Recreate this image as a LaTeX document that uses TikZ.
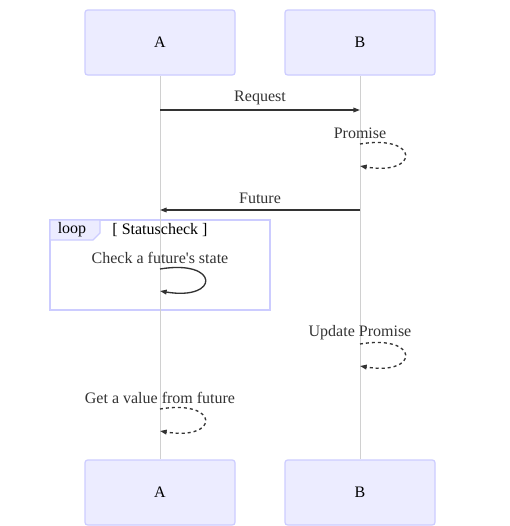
\documentclass[tikz,border=0pt]{standalone}
\usepackage{fontspec}
\setmainfont{Liberation Serif}
\usetikzlibrary{arrows.meta}
\usetikzlibrary{positioning}

\definecolor{actorfill}{HTML}{ECECFF}
\definecolor{actorline}{HTML}{CCCCFF}
\definecolor{lifegray}{HTML}{D0D0D0}
\definecolor{msggray}{HTML}{333333}

\tikzset{
  actor/.style={draw=actorline, fill=actorfill, line width=0.9pt, rounded corners=2pt,
    minimum width=112.5pt, minimum height=48.75pt, font=\fontsize{12}{14}\selectfont},
  lifeline/.style={draw=lifegray, line width=0.75pt},
  msg/.style={draw=msggray, line width=1pt, -{Triangle[length=5pt,width=3.5pt]}},
  reply/.style={msg, dash pattern=on 2.25pt off 2.25pt},
  lbl/.style={text=msggray, font=\fontsize{12}{14}\selectfont, inner sep=0pt},
  looplbl/.style={text=black, font=\fontsize{12}{14}\selectfont, inner sep=0pt}
}

\begin{document}
\begin{tikzpicture}[x=0.75pt, y=-0.75pt]
  \useasboundingbox (0,0) rectangle (510,526);

  % loop frame
  \draw[actorline, line width=0.9pt] (50,220) rectangle (270,310);
  \filldraw[draw=actorline, fill=actorfill, line width=0.9pt]
    (50,220) -- (100,220) -- (100,233) -- (93,240) -- (50,240) -- cycle;
  \node[looplbl] (looptag) at (72,230) {loop};
  \node[looplbl] (loopcond) at (160,230) {[ Statuscheck ]};

  % actors
  \node[actor] (A) at (160,42.5) {A};
  \node[actor] (B) at (360,42.5) {B};
  \node[actor] (A2) at (160,492.5) {A};
  \node[actor] (B2) at (360,492.5) {B};
  \draw[lifeline] (A) -- (A2);
  \draw[lifeline] (B) -- (B2);

  % request
  \coordinate (reqA) at (160,110);
  \coordinate (reqB) at (360,110);
  \draw[msg] (reqA) -- (reqB);
  \node[lbl] (request) at (260,98) {Request};

  % promise
  \coordinate (proS) at (360,144);
  \coordinate (proE) at (360,166);
  \draw[reply] (proS) .. controls (420,134) and (420,176) .. (proE);
  \node[lbl] (promise) at (360,133) {Promise};

  % future
  \coordinate (futB) at (360,210);
  \coordinate (futA) at (160,210);
  \draw[msg] (futB) -- (futA);
  \node[lbl] (future) at (260,198) {Future};

  % check
  \coordinate (chkS) at (160,269);
  \coordinate (chkE) at (160,291);
  \draw[msg] (chkS) .. controls (220,259) and (220,301) .. (chkE);
  \node[lbl] (check) at (160,258) {Check a future\textquotesingle s state};

  % update
  \coordinate (updS) at (360,344);
  \coordinate (updE) at (360,366);
  \draw[reply] (updS) .. controls (420,334) and (420,376) .. (updE);
  \node[lbl] (update) at (360,333) {Update Promise};

  % get value
  \coordinate (getS) at (160,409);
  \coordinate (getE) at (160,431);
  \draw[reply] (getS) .. controls (220,399) and (220,441) .. (getE);
  \node[lbl] (getval) at (160,398) {Get a value from future};
\end{tikzpicture}
\end{document}
